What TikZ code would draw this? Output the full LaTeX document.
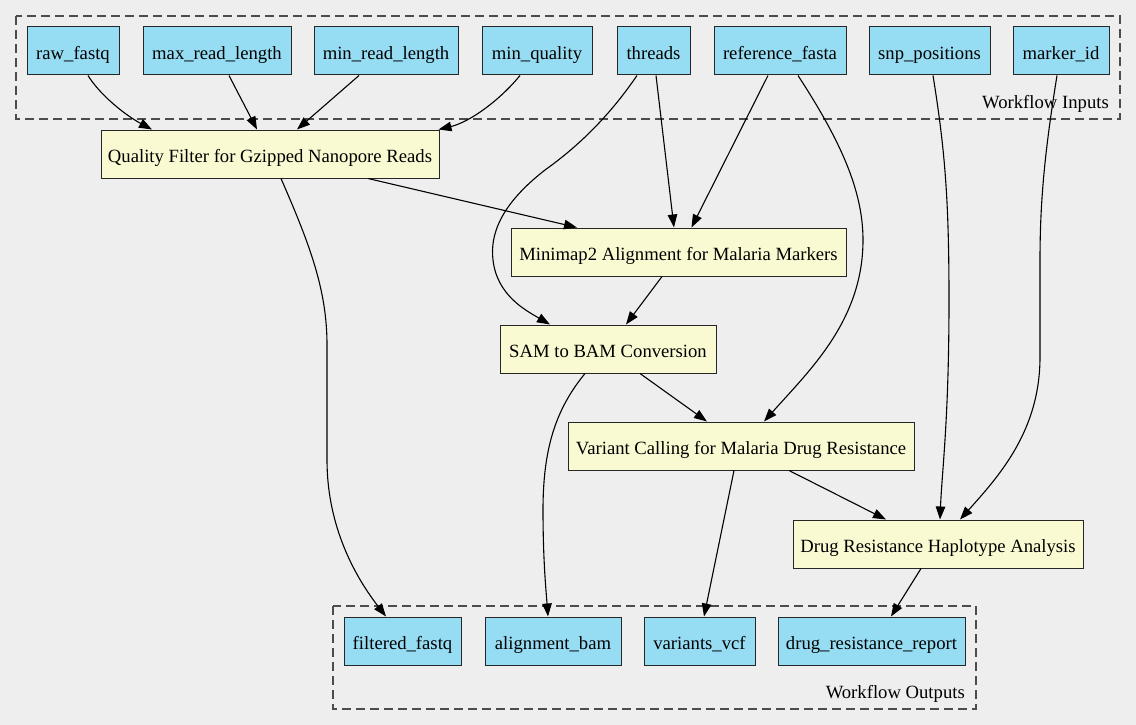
\documentclass[tikz,border=0pt]{standalone}
\usepackage{fontspec}
\setmainfont{Liberation Serif}
\usetikzlibrary{arrows.meta}
\definecolor{bgc}{HTML}{EEEEEE}
\definecolor{inpc}{RGB}{150,221,244}
\definecolor{procc}{RGB}{250,250,210}
\begin{document}
\begin{tikzpicture}[x=1pt,y=-1pt,
 box/.style={draw=black!85,line width=1pt,minimum height=48pt,inner sep=0pt,text height=17pt,text depth=0pt,font=\fontsize{18.67}{22}\selectfont},
 iobox/.style={box,fill=inpc},
 procbox/.style={box,fill=procc},
 edge/.style={line width=1.1pt,-{Triangle[length=13pt,width=9.5pt]}},
 cluster/.style={draw=black!70,dash pattern=on 9pt off 5pt,line width=1.1pt},
 clab/.style={anchor=base east,inner sep=0pt,font=\fontsize{18.67}{22}\selectfont}]
\fill[bgc] (0,0) rectangle (1136,725);
\useasboundingbox (0,0) rectangle (1136,725);
% clusters
\draw[cluster] (16,16) rectangle (1120,119);
\draw[cluster] (333,606) rectangle (976,709);
\node[clab] (inlab) at (1109,108) {Workflow Inputs};
\node[clab] (outlab) at (965,698) {Workflow Outputs};
% inputs
\node[iobox,minimum width=92pt]  (raw)    at (73,51)    {raw\_fastq};
\node[iobox,minimum width=148pt] (maxrl)  at (217,51)   {max\_read\_length};
\node[iobox,minimum width=144pt] (minrl)  at (386,51)   {min\_read\_length};
\node[iobox,minimum width=110pt] (minq)   at (537,51)   {min\_quality};
\node[iobox,minimum width=73pt]  (thr)    at (653.5,51) {threads};
\node[iobox,minimum width=132pt] (ref)    at (780,51)   {reference\_fasta};
\node[iobox,minimum width=121pt] (snp)    at (929.5,51) {snp\_positions};
\node[iobox,minimum width=96pt]  (mark)   at (1061,51)  {marker\_id};
% processes
\node[procbox,minimum width=338pt] (qf)   at (270,154)   {Quality Filter for Gzipped Nanopore Reads};
\node[procbox,minimum width=335pt] (mm)   at (678.5,252) {Minimap2 Alignment for Malaria Markers};
\node[procbox,minimum width=216pt] (sam)  at (608,349)   {SAM to BAM Conversion};
\node[procbox,minimum width=346pt] (vc)   at (741,446)   {Variant Calling for Malaria Drug Resistance};
\node[procbox,minimum width=290pt] (drug) at (938,544)   {Drug Resistance Haplotype Analysis};
% outputs
\node[iobox,minimum width=117pt] (filt) at (402.5,641) {filtered\_fastq};
\node[iobox,minimum width=136pt] (abam) at (553,641)   {alignment\_bam};
\node[iobox,minimum width=111pt] (vcf)  at (699.5,641) {variants\_vcf};
\node[iobox,minimum width=187pt] (rep)  at (871.5,641) {drug\_resistance\_report};
% edges
\draw[edge] ([xshift=15pt]raw.south) .. controls (100,95) and (125,115) .. ([xshift=-118pt]qf.north);
\draw[edge] ([xshift=12pt]maxrl.south) -- ([xshift=-13pt]qf.north);
\draw[edge] ([xshift=-27pt]minrl.south) -- ([xshift=27pt]qf.north);
\draw[edge] ([xshift=-17pt]minq.south) .. controls (500,100) and (470,122) .. ([xshift=-1pt]qf.north east);
\draw[edge] ([xshift=-16.5pt]thr.south) .. controls (610,115) and (580,145) .. (545,170)
  .. controls (500,205) and (490,235) .. (493,260) .. controls (497,295) and (525,310) .. ([xshift=-58pt]sam.north);
\draw[edge] ([xshift=2.5pt]thr.south) -- ([xshift=-4.5pt]mm.north);
\draw[edge] ([xshift=-12pt]ref.south) -- ([xshift=13pt]mm.north);
\draw[edge] ([xshift=18pt]ref.south) .. controls (840,140) and (863,190) .. (863,240)
  .. controls (863,320) and (810,370) .. ([xshift=23pt]vc.north);
\draw[edge] ([xshift=98pt]qf.south) -- ([xshift=-101.5pt]mm.north);
\draw[edge] ([xshift=11pt]qf.south) .. controls (310,245) and (327,290) .. (327,345) -- (327,460)
  .. controls (327,520) and (350,570) .. ([xshift=-16.5pt]filt.north);
\draw[edge] ([xshift=-16.5pt]mm.south) -- ([xshift=18pt]sam.north);
\draw[edge] ([xshift=-23pt]sam.south) .. controls (555,410) and (543,450) .. (543,510)
  .. controls (543,560) and (546,590) .. ([xshift=-5pt]abam.north);
\draw[edge] ([xshift=32pt]sam.south) -- ([xshift=-34pt]vc.north);
\draw[edge] ([xshift=-7pt]vc.south) -- ([xshift=4.5pt]vcf.north);
\draw[edge] ([xshift=48pt]vc.south) -- ([xshift=-52pt]drug.north);
\draw[edge] ([xshift=3.5pt]snp.south) .. controls (945,150) and (949,200) .. (949,300)
  .. controls (949,420) and (942,470) .. ([xshift=2pt]drug.north);
\draw[edge] ([xshift=-4pt]mark.south) .. controls (1045,150) and (1040,200) .. (1040,260) -- (1040,357)
  .. controls (1040,430) and (1000,475) .. ([xshift=22pt]drug.north);
\draw[edge] ([xshift=-17pt]drug.south) -- ([xshift=19.5pt]rep.north);
\end{tikzpicture}
\end{document}
